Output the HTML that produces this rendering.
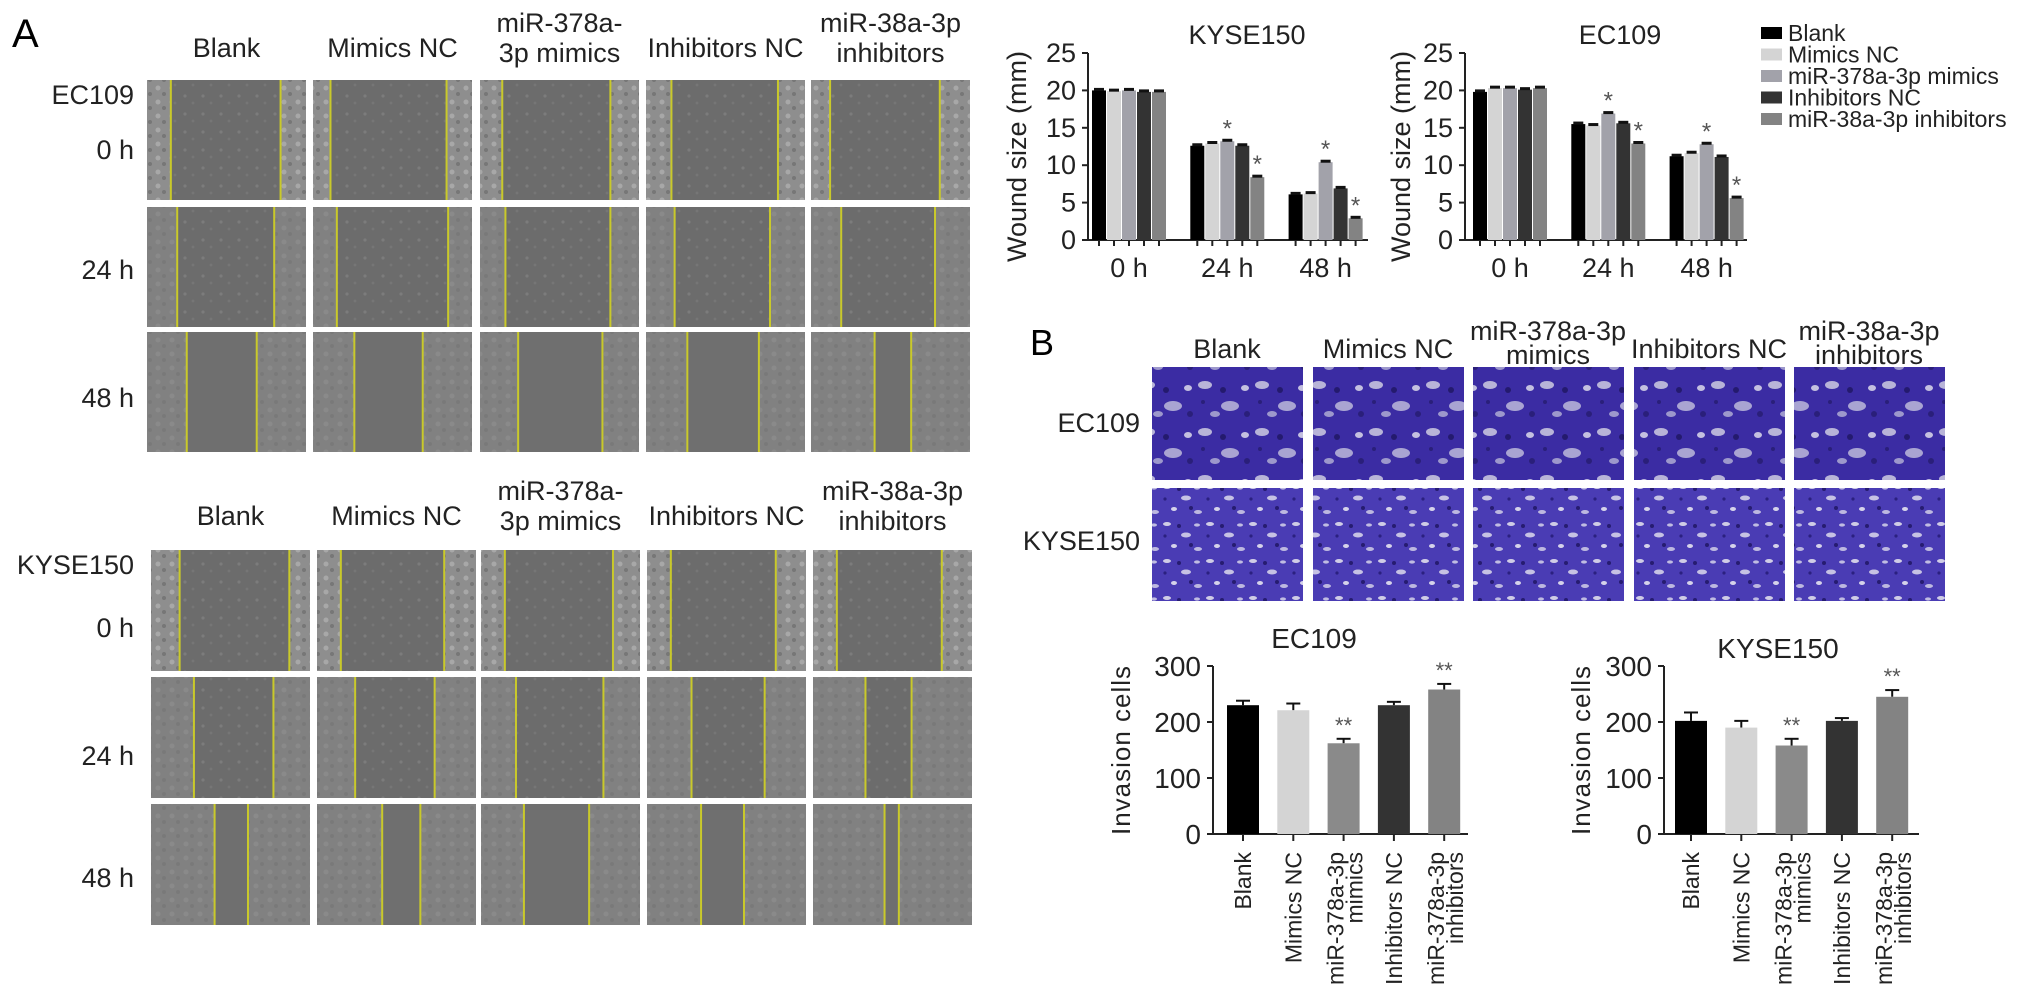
<!DOCTYPE html>
<html><head><meta charset="utf-8"><style>
html,body{margin:0;padding:0;background:#fff}
svg{display:block;font-family:"Liberation Sans",sans-serif}
</style></head><body>
<svg id="fig" width="2032" height="1000" viewBox="0 0 2032 1000" xmlns="http://www.w3.org/2000/svg">
<defs>
<pattern id="cellsLight" width="14" height="14" patternUnits="userSpaceOnUse">
<rect width="14" height="14" fill="#8e8e8e"/><circle cx="4" cy="4" r="2.5" fill="#a8a8a8"/><circle cx="10" cy="10" r="2" fill="#777"/>
</pattern>
<pattern id="cellsDark" width="18" height="18" patternUnits="userSpaceOnUse">
<rect width="18" height="18" fill="#6c6c6c"/><circle cx="5" cy="6" r="1.6" fill="#7c7c7c"/><circle cx="13" cy="13" r="1.4" fill="#767676"/>
</pattern>
<pattern id="tw1" width="57" height="47" patternUnits="userSpaceOnUse">
<rect width="57" height="47" fill="#3b2ca3"/>
<ellipse cx="8" cy="9" rx="7" ry="4" fill="#b8b4d8"/><ellipse cx="33" cy="30" rx="9" ry="5" fill="#a9a4d2"/>
<ellipse cx="48" cy="12" rx="4" ry="3" fill="#c4c0e0"/><ellipse cx="18" cy="38" rx="5" ry="3" fill="#9d98cc"/>
<circle cx="26" cy="14" r="3" fill="#241a6e"/><circle cx="50" cy="38" r="3" fill="#2a1f7a"/><circle cx="6" cy="26" r="2" fill="#2a1f7a"/>
</pattern>
<pattern id="tw2" width="43" height="37" patternUnits="userSpaceOnUse">
<rect width="43" height="37" fill="#4a3cb4"/>
<ellipse cx="6" cy="6" rx="4" ry="2" fill="#d0cde6"/><ellipse cx="25" cy="17" rx="5" ry="2.5" fill="#c6c2e4"/>
<ellipse cx="37" cy="31" rx="4" ry="2" fill="#bdb8e0"/><ellipse cx="13" cy="28" rx="3" ry="2" fill="#d6d3ea"/>
<ellipse cx="36" cy="7" rx="3" ry="1.6" fill="#c0bce2"/>
<circle cx="18" cy="8" r="2" fill="#261c70"/><circle cx="30" cy="27" r="2" fill="#261c70"/><circle cx="4" cy="18" r="1.6" fill="#2b2080"/>
</pattern>
</defs>
<g id="root"></g>
</svg>
<script>
// ---------- data ----------
const groupNames = ["Blank","Mimics NC","miR-378a-3p mimics","Inhibitors NC","miR-38a-3p inhibitors"];
const timePoints = ["0 h","24 h","48 h"];
const woundTicks = [0,5,10,15,20,25];
const kyseWound0 = [20.0,19.9,20.0,19.8,19.8];
const kyseWound24 = [12.6,12.9,13.2,12.6,8.4];
const kyseWound48 = [6.1,6.2,10.4,6.9,2.9];
const ecWound0 = [19.8,20.3,20.3,20.1,20.3];
const ecWound24 = [15.5,15.3,16.9,15.6,12.9];
const ecWound48 = [11.2,11.6,12.8,11.1,5.6];
const kyseWoundStars = [[],[2,4],[2,4]];
const ecWoundStars = [[],[2,4],[2,4]];
const invCats = [["Blank"],["Mimics NC"],["miR-378a-3p","mimics"],["Inhibitors NC"],["miR-378a-3p","inhibitors"]];
const invTicks = [0,100,200,300];
const ecInvasion = [230,221,162,230,258];
const ecInvasionErr = [8,12,8,6,10];
const kyseInvasion = [202,190,158,202,245];
const kyseInvasionErr = [15,12,12,5,12];
const invStars = [2,4];

const colors = ["#000000","#d4d4d4","#a2a2aa","#333333","#838383"];
const invColors = ["#000000","#d4d4d4","#8a8a8a","#333333","#838383"];
const NS="http://www.w3.org/2000/svg";
const root=document.getElementById('root');
function mk(tag,attrs,parent,text){const e=document.createElementNS(NS,tag);for(const k in attrs)e.setAttribute(k,attrs[k]);if(text!==undefined)e.textContent=text;(parent||root).appendChild(e);return e;}

// ---------- panel A: wound images ----------
mk('text',{x:12,y:47,'font-size':40},root,'A');
const aHeadTop=[["Blank"],["Mimics NC"],["miR-378a-","3p mimics"],["Inhibitors NC"],["miR-38a-3p","inhibitors"]];
function woundGrid(cols,rows,w,h,headY,lines,cell,name){
  const g=mk('g',{});
  
  
  aHeadTop.forEach((hd,i)=>{
    const cx=cols[i]+w/2;
    if(hd.length===1){const t=mk('text',{x:cx,y:headY+9,'text-anchor':'middle','font-size':27,fill:'#222'},g,hd[0]);}
    else{hd.forEach((s,j)=>{const t=mk('text',{x:cx,y:headY-16+j*30,'text-anchor':'middle','font-size':27,fill:'#222'},g,s);});}
  });
  rows.forEach((ry,r)=>{
    cols.forEach((cx,c)=>{
      const L=lines[r][c];
      const pg=mk('g',{},g);
      
      
      mk('rect',{x:cx,y:ry,width:w,height:h,fill:r===0?'url(#cellsLight)':'#7a7a7a'},pg);
      mk('rect',{x:cx+w*L[0],y:ry,width:w*(L[1]-L[0]),height:h,fill:r===2?'#6f6f6f':'url(#cellsDark)'},pg);
      if(r>0){mk('rect',{x:cx,y:ry,width:w*L[0],height:h,fill:'url(#cellsLight)',opacity:0.35},pg);mk('rect',{x:cx+w*L[1],y:ry,width:w*(1-L[1]),height:h,fill:'url(#cellsLight)',opacity:0.35},pg);}
      [L[0],L[1]].forEach(f=>mk('line',{x1:cx+w*f,y1:ry,x2:cx+w*f,y2:ry+h,stroke:'#c9c92a','stroke-width':2},pg));
    });
  });
}
const ecLines=[[[.15,.84],[.11,.84],[.14,.82],[.16,.83],[.12,.81]],[[.19,.80],[.15,.85],[.16,.82],[.18,.78],[.19,.78]],[[.25,.69],[.26,.69],[.24,.77],[.26,.71],[.40,.63]]];
const kyLines=[[[.18,.87],[.15,.80],[.15,.83],[.15,.81],[.15,.81]],[[.27,.77],[.24,.74],[.22,.77],[.28,.74],[.33,.62]],[[.40,.61],[.41,.65],[.27,.68],[.34,.61],[.45,.54]]];
woundGrid([147,313,480,646,811],[80,207,332],159,120,48,ecLines,'light','ec109-wound-grid');
woundGrid([151,317,481,647,813],[550,677,804],159,121,516,kyLines,'dark','kyse150-wound-grid');
[["EC109",104],["0 h",159],["24 h",279],["48 h",407],["KYSE150",574],["0 h",637],["24 h",765],["48 h",887]].forEach(([s,y])=>{
  const t=mk('text',{x:134,y:y,'text-anchor':'end','font-size':27,fill:'#222'},root,s);
  
});

// ---------- wound bar charts ----------
function woundChart(axisX,firstX,axisEnd,vals,stars,title,titleX,labelX,name){
  const g=mk('g',{});
  
  
  const y0=240,y25=53;
  const ys=v=>y0-(v/25)*(y0-y25);
  const t=mk('text',{x:titleX,y:44,'text-anchor':'middle','font-size':27,fill:'#222'},g,title);
  const yl=mk('text',{transform:`translate(${labelX},${(y0+y25)/2+10}) rotate(-90)`,'text-anchor':'middle','font-size':27,fill:'#222'},g,'Wound size (mm)');
  
  mk('line',{x1:axisX,y1:y25,x2:axisX,y2:y0,stroke:'#222','stroke-width':2},g);
  mk('line',{x1:axisX,y1:y0,x2:axisEnd,y2:y0,stroke:'#222','stroke-width':2},g);
  woundTicks.forEach(v=>{
    mk('line',{x1:axisX-6,y1:ys(v),x2:axisX,y2:ys(v),stroke:'#222','stroke-width':2},g);
    const tl=mk('text',{x:axisX-12,y:ys(v)+9,'text-anchor':'end','font-size':27,fill:'#222'},g,String(v));
    
  });
  const step=98.3,bw=14,bs=15;
  vals.forEach((arr,gi)=>{
    arr.forEach((v,i)=>{
      const x=firstX+gi*step+i*bs;
      const b=mk('rect',{x:x,y:ys(v),width:bw,height:y0-ys(v),fill:colors[i]},g);
      
      mk('line',{x1:x+2,y1:ys(v)-1,x2:x+bw-2,y2:ys(v)-1,stroke:'#111','stroke-width':3},g);
      mk('line',{x1:x+bw/2,y1:y0,x2:x+bw/2,y2:y0+6,stroke:'#222','stroke-width':2},g);
      if(stars[gi].includes(i)){const s=mk('text',{x:x+bw/2,y:ys(v)-5,'text-anchor':'middle','font-size':24,fill:'#555'},g,'*');}
    });
    const gl=mk('text',{x:firstX+gi*step+37,y:277,'text-anchor':'middle','font-size':27,fill:'#222'},g,timePoints[gi]);
    
  });
}
woundChart(1088,1092,1368,[kyseWound0,kyseWound24,kyseWound48],kyseWoundStars,'KYSE150',1247,1026,'kyse150-wound-chart');
woundChart(1465,1473,1747,[ecWound0,ecWound24,ecWound48],ecWoundStars,'EC109',1620,1410,'ec109-wound-chart');

// legend
const lg=mk('g',{});


groupNames.forEach((n,i)=>{
  const y=33+i*21.5;
  const e=mk('g',{},lg);
  
  mk('rect',{x:1761,y:y-6,width:21,height:12,fill:colors[i]},e);
  mk('text',{x:1788,y:y+8,'font-size':23,fill:'#222'},e,n);
});

// ---------- panel B: transwell ----------
mk('text',{x:1030,y:355,'font-size':36},root,'B');
const bHead=[["Blank"],["Mimics NC"],["miR-378a-3p","mimics"],["Inhibitors NC"],["miR-38a-3p","inhibitors"]];
const twCols=[1152,1313,1473,1634,1794];
bHead.forEach((hd,i)=>{
  const cx=twCols[i]+75;
  if(hd.length===1){const t=mk('text',{x:cx,y:358,'text-anchor':'middle','font-size':27,fill:'#222'},root,hd[0]);}
  else hd.forEach((s,j)=>{const t=mk('text',{x:cx,y:340+j*24,'text-anchor':'middle','font-size':27,fill:'#222'},root,s);});
});
[[367,'tw1'],[488,'tw2']].forEach(([y,p],r)=>{
  twCols.forEach(x=>{
    const im=mk('rect',{x:x,y:y,width:151,height:113,fill:`url(#${p})`});
    
    
  });
});
[["EC109",432],["KYSE150",550]].forEach(([s,y])=>{const t=mk('text',{x:1140,y:y,'text-anchor':'end','font-size':27,fill:'#222'},root,s);});

// ---------- invasion charts ----------
function invChart(axisX,axisEnd,c0,vals,errs,title,titleX,titleY,labelX,name){
  const g=mk('g',{});
  
  
  const y0=834,y300=666;
  const ys=v=>y0-(v/300)*(y0-y300);
  const t=mk('text',{x:titleX,y:titleY+10,'text-anchor':'middle','font-size':28,fill:'#222'},g,title);
  const yl=mk('text',{transform:`translate(${labelX},${(y0+y300)/2}) rotate(-90)`,'text-anchor':'middle','font-size':26,'letter-spacing':1,fill:'#222'},g,'Invasion cells');
  
  mk('line',{x1:axisX,y1:y300,x2:axisX,y2:y0,stroke:'#222','stroke-width':2},g);
  mk('line',{x1:axisX,y1:y0,x2:axisEnd,y2:y0,stroke:'#222','stroke-width':2},g);
  invTicks.forEach(v=>{
    mk('line',{x1:axisX-6,y1:ys(v),x2:axisX,y2:ys(v),stroke:'#222','stroke-width':2},g);
    const tl=mk('text',{x:axisX-12,y:ys(v)+10,'text-anchor':'end','font-size':28,fill:'#222'},g,String(v));
    
  });
  vals.forEach((v,i)=>{
    const cx=c0+i*50.3;
    const top=ys(v+errs[i]);
    mk('line',{x1:cx,y1:ys(v),x2:cx,y2:top,stroke:'#111','stroke-width':2},g);
    mk('line',{x1:cx-7,y1:top,x2:cx+7,y2:top,stroke:'#111','stroke-width':2},g);
    const b=mk('rect',{x:cx-16,y:ys(v),width:32,height:y0-ys(v),fill:invColors[i]},g);
    
    mk('line',{x1:cx,y1:y0,x2:cx,y2:y0+7,stroke:'#222','stroke-width':2},g);
    if(invStars.includes(i)){const s=mk('text',{x:cx,y:top-6,'text-anchor':'middle','font-size':22,fill:'#555'},g,'**');}
    const lines=invCats[i];
    lines.forEach((s,j)=>{
      const off=lines.length===1?8:(j===0?0:19);
      const tl=mk('text',{transform:`translate(${cx+off},852) rotate(-90)`,'text-anchor':'end','font-size':23,fill:'#222'},g,s);
      
    });
  });
}
invChart(1213,1468,1243,ecInvasion,ecInvasionErr,'EC109',1314,638,1130,'ec109-invasion-chart');
invChart(1664,1919,1691,kyseInvasion,kyseInvasionErr,'KYSE150',1778,648,1590,'kyse150-invasion-chart');
</script>
</body></html>
